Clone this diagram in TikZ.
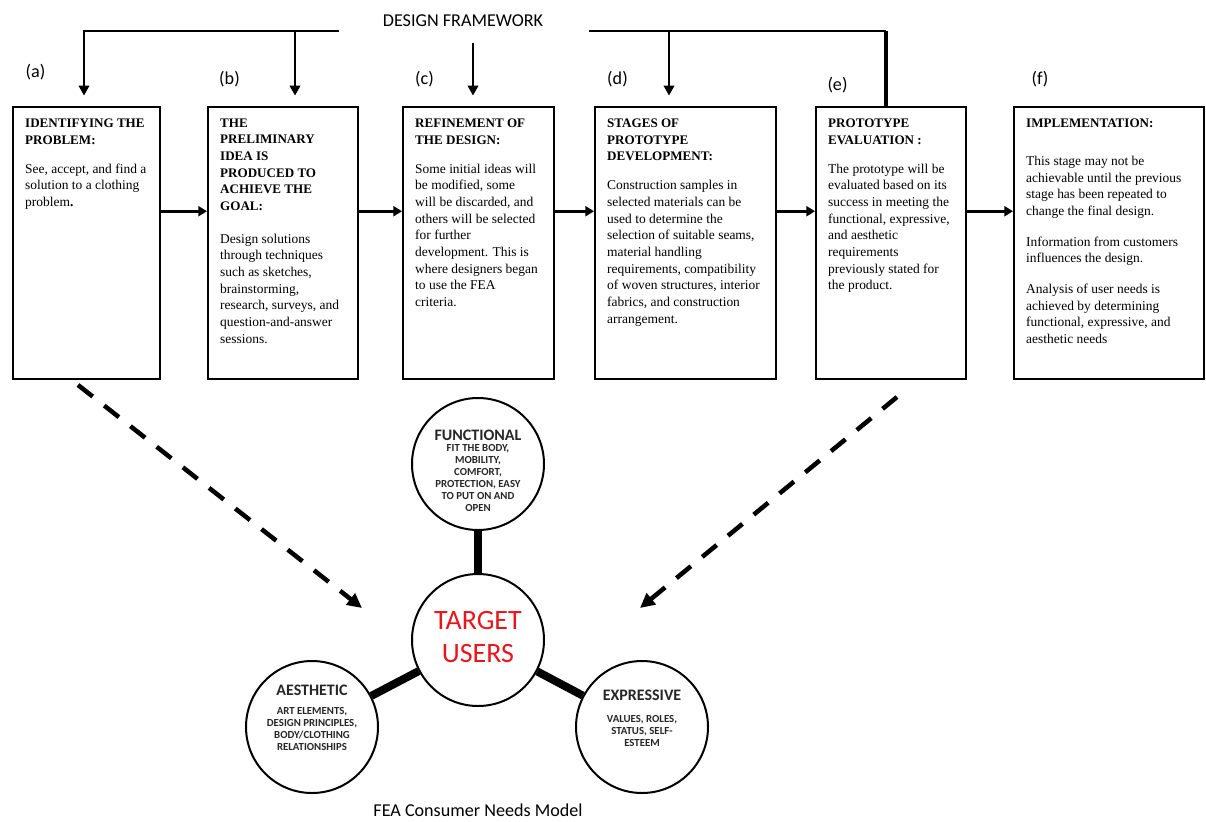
\documentclass[tikz,border=0pt]{standalone}
\usepackage{fontspec}
\setmainfont{Liberation Serif}
\newfontfamily\calibri{Carlito}
\usepackage{xcolor}
\usetikzlibrary{arrows.meta}

\definecolor{targetred}{RGB}{232,22,28}
\definecolor{needgray}{RGB}{38,38,38}

\newcommand{\stagetext}[4][9.25pt]{\makebox[#2][l]{\parbox[t][186.4pt][t]{170pt}{\fontsize{10.1}{12.5}\selectfont{\bfseries\fontsize{9.8}{12.5}\selectfont#3\par}\vspace{#1}#4}}}

\begin{document}
\begin{tikzpicture}[x=0.75pt, y=-0.75pt,
  stage/.style={draw, line width=1.8pt, anchor=north west, inner xsep=9pt, inner ysep=9pt},
  flow/.style={line width=2.2pt, -{Triangle[length=6.5pt,width=7.5pt]}},
  frame/.style={line width=1.5pt},
  framearrow/.style={line width=1.5pt, -{Triangle[length=7.5pt,width=8pt]}, shorten >=7.5pt},
  tag/.style={font=\calibri\fontsize{13.6}{16}\selectfont},
  need/.style={circle, draw, line width=1.5pt, minimum size=99pt, inner sep=0pt},
  needtext/.style={align=center, text=needgray, font=\calibri\bfseries\fontsize{8.1}{9}\selectfont},
  link/.style={line width=6pt},
  hint/.style={line width=3.4pt, dash pattern=on 14pt off 11pt, -{Triangle[length=11pt,width=10.5pt]}}]

\useasboundingbox (0,0) rectangle (1206,821);

\node[stage] (boxa) at (12,105.5) {\stagetext{92.25pt}{IDENTIFYING THE\\PROBLEM:}{See, accept, and find a\\solution to a clothing\\problem\textbf{.}}};
\node[stage] (boxb) at (207,105.5) {\stagetext[12pt]{94.5pt}{THE\\PRELIMINARY\\IDEA IS\\PRODUCED TO\\ACHIEVE THE\\GOAL:}{Design solutions\\through techniques\\such as sketches,\\brainstorming,\\research, surveys, and\\question-and-answer\\sessions.}};
\node[stage] (boxc) at (402,105.5) {\stagetext{95.25pt}{REFINEMENT OF\\THE DESIGN:}{Some initial ideas will\\be modified, some\\will be discarded, and\\others will be selected\\for further\\development. This is\\where designers began\\to use the FEA\\criteria.}};
\node[stage] (boxd) at (594,105.5) {\stagetext{117.75pt}{STAGES OF\\PROTOTYPE\\DEVELOPMENT:}{Construction samples in\\selected materials can be\\used to determine the\\selection of suitable seams,\\material handling\\requirements, compatibility\\of woven structures, interior\\fabrics, and construction\\arrangement.}};
\node[stage] (boxe) at (815,105.5) {\stagetext{94.5pt}{PROTOTYPE\\EVALUATION :}{The prototype will be\\evaluated based on its\\success in meeting the\\functional, expressive,\\and aesthetic\\requirements\\previously stated for\\the product.}};
\node[stage] (boxf) at (1013,105.5) {\stagetext[16pt]{124.5pt}{IMPLEMENTATION:}{This stage may not be\\achievable until the previous\\stage has been repeated to\\change the final design.\par\vspace{10.5pt}Information from customers\\influences the design.\par\vspace{10.5pt}Analysis of user needs is\\achieved by determining\\functional, expressive, and\\aesthetic needs}};

\foreach \u/\v in {boxa/boxb, boxb/boxc, boxc/boxd, boxd/boxe, boxe/boxf}
  \draw[flow] ([yshift=23.8pt]\u.east) -- ([yshift=23.8pt]\v.west);

\node[tag] (framework) at (463,21) {DESIGN FRAMEWORK};
\node[tag] (taga) at (35.5,72.5) {(a)};
\node[tag] (tagb) at (229.5,79.5) {(b)};
\node[tag] (tagc) at (424.5,79.5) {(c)};
\node[tag] (tagd) at (617.5,79) {(d)};
\node[tag] (tage) at (837.5,85) {(e)};
\node[tag] (tagf) at (1040,79.5) {(f)};

\coordinate (fwA) at (84,31);
\coordinate (fwLend) at (339,31);
\coordinate (fwB) at (295,31);
\coordinate (fwC) at (473,43);
\coordinate (fwD) at (669,31);
\coordinate (fwRstart) at (589,31);
\coordinate (fwE) at (886,31);

\draw[framearrow] (fwLend) -- (fwA) -- (fwA |- boxa.north);
\draw[framearrow] (fwB) -- (fwB |- boxb.north);
\draw[framearrow] (fwC) -- (fwC |- boxc.north);
\draw[framearrow] (fwD) -- (fwD |- boxd.north);
\draw[frame] (fwRstart) -- (fwE);
\draw[line width=2.5pt] (fwE) -- (fwE |- boxe.north);

\node[need] (func) at (478,464) {};
\node[need] (target) at (478,640) {};
\node[need] (aesth) at (312,727) {};
\node[need] (expr) at (642,727) {};
\draw[link] (func) -- (target);
\draw[link] (target) -- (aesth);
\draw[link] (target) -- (expr);

\node[needtext] (functext) at ([yshift=-5pt]func.center) {{\fontsize{12}{12}\selectfont FUNCTIONAL}\\[-1pt]FIT THE BODY,\\MOBILITY,\\COMFORT,\\PROTECTION, EASY\\TO PUT ON AND\\OPEN};
\node[align=center, text=targetred, font=\calibri\fontsize{21}{25}\selectfont] (targettext) at ([yshift=2pt]target.center) {TARGET\\USERS};
\node[needtext] (aesthtext) at ([yshift=7pt]aesth.center) {{\fontsize{12}{12}\selectfont AESTHETIC}\\[5pt]ART ELEMENTS,\\DESIGN PRINCIPLES,\\BODY/CLOTHING\\RELATIONSHIPS};
\node[needtext] (exprtext) at ([yshift=6.5pt]expr.center) {{\fontsize{12}{12}\selectfont EXPRESSIVE}\\[7pt]VALUES, ROLES,\\STATUS, SELF-\\ESTEEM};

\coordinate (lstart) at (78,385);
\coordinate (lend) at (362,608);
\coordinate (rstart) at (897,397);
\coordinate (rend) at (640,608);
\draw[hint] (lstart) -- (lend);
\draw[hint] (rstart) -- (rend);

\node[tag] (caption) at (478,810) {FEA Consumer Needs Model};
\end{tikzpicture}
\end{document}
